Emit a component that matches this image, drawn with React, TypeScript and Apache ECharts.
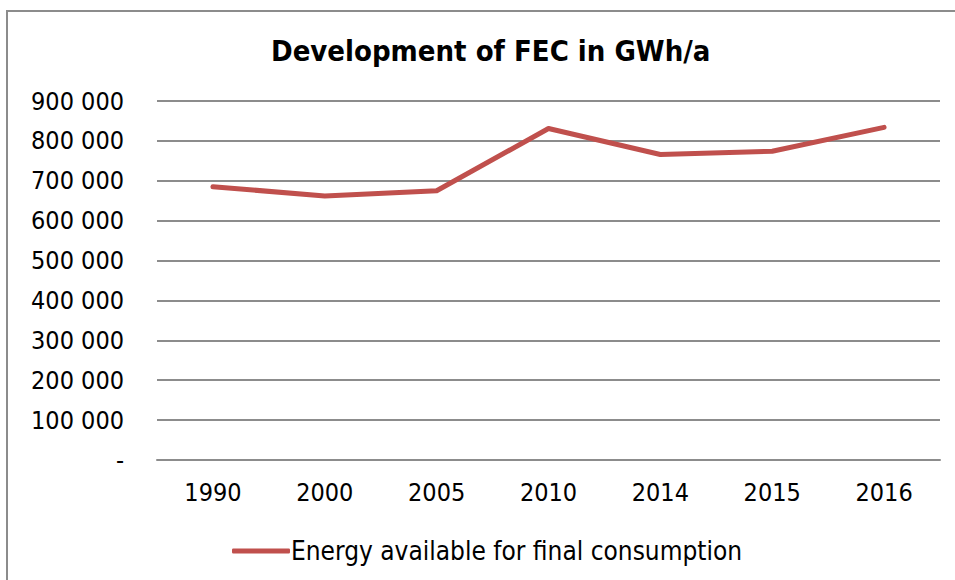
import React, { useEffect, useRef } from "react";
import * as echarts from "echarts";

const categories = ["1990", "2000", "2005", "2010", "2014", "2015", "2016"];
const energyValues = [685000, 662000, 675000, 831000, 766000, 774000, 834000];
const seriesName = "Energy available for final consumption";
const titleText = "Development of FEC in GWh/a";

const FONT = "'DejaVu Sans Condensed', 'DejaVu Sans', sans-serif";

function fmt(v: number): string {
  if (v === 0) return "-";
  return String(v).replace(/\B(?=(\d{3})+(?!\d))/g, " ");
}

export default function App() {
  const ref = useRef<HTMLDivElement>(null);
  useEffect(() => {
    if (!ref.current) return;
    const chart = echarts.init(ref.current, null, { renderer: "svg" });
    chart.setOption({
      animation: false,
      backgroundColor: "#ffffff",
      title: {
        text: titleText,
        left: 266,
        top: 31,
        textStyle: { fontFamily: FONT, fontSize: 29, fontWeight: "bold", color: "#000" },
      },
      graphic: [
        {
          type: "rect",
          shape: { x: 7, y: 11, width: 1000, height: 1000 },
          style: { fill: "none", stroke: "#8c8c8c", lineWidth: 2 },
          silent: true,
        },
      ],
      legend: {
        top: 533,
        left: 227,
        itemWidth: 58,
        itemHeight: 5,
        itemGap: 2,
        data: [{ name: seriesName, icon: "roundRect" }],
        textStyle: { fontFamily: FONT, fontSize: 26, color: "#000", padding: [0, 0, 0, -4] },
      },
      grid: { left: 157, right: 15, top: 101, bottom: 120 },
      xAxis: {
        type: "category",
        data: categories,
        axisLine: { lineStyle: { color: "#8c8c8c", width: 2 } },
        axisTick: { show: false },
        axisLabel: { fontFamily: FONT, fontSize: 25, color: "#000", margin: 20 },
      },
      yAxis: {
        type: "value",
        min: 0,
        max: 900000,
        interval: 100000,
        axisLine: { show: false },
        axisTick: { show: false },
        splitLine: { lineStyle: { color: "#8c8c8c", width: 2 } },
        axisLabel: { fontFamily: FONT, fontSize: 25, color: "#000", margin: 33, formatter: fmt },
      },
      series: [
        {
          name: seriesName,
          type: "line",
          data: energyValues,
          symbol: "none",
          lineStyle: { color: "#C0504D", width: 5, cap: "round", join: "round" },
          itemStyle: { color: "#C0504D" },
        },
      ],
    });
    return () => chart.dispose();
  }, []);
  return (
    <div
      ref={ref}
      style={{ position: "fixed", left: 0, top: 0, width: 955, height: 580 }}
    />
  );
}
